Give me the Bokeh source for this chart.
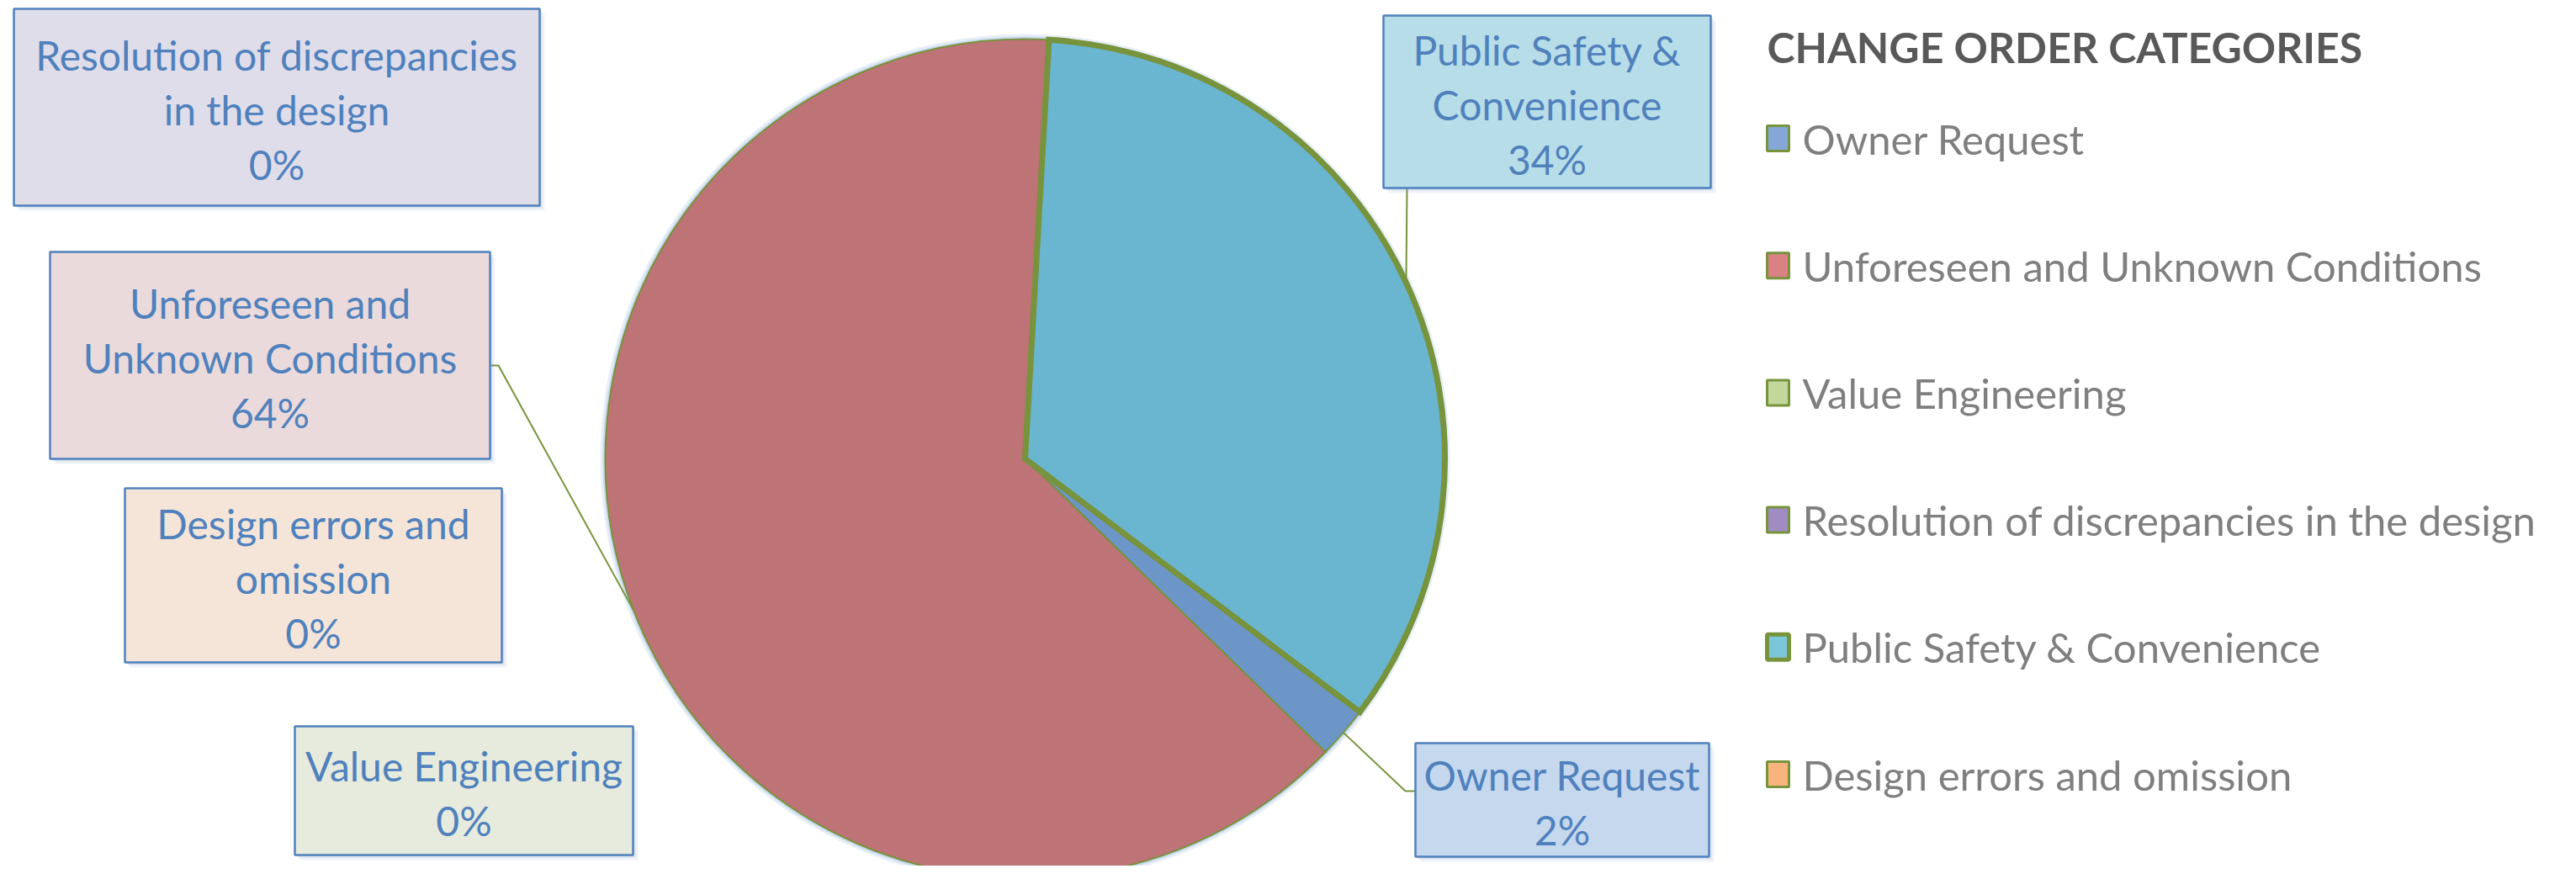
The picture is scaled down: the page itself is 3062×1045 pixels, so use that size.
import numpy as np
from bokeh.plotting import figure
from bokeh.models import Range1d
from bokeh.core.properties import value
from bokeh.embed import file_html
from bokeh.resources import INLINE

# ---------------- data ----------------
categories = ["Owner Request", "Unforeseen and Unknown Conditions", "Value Engineering",
              "Resolution of discrepancies in the design", "Public Safety & Convenience",
              "Design errors and omission"]
shares = [2.0, 63.6, 0.0, 0.0, 34.4, 0.0]
label_lines = [["Owner Request"], ["Unforeseen and", "Unknown Conditions"], ["Value Engineering"],
               ["Resolution of discrepancies", "in the design"], ["Public Safety &", "Convenience"],
               ["Design errors and", "omission"]]
legend_title = "CHANGE ORDER CATEGORIES"

# ---------------- styles ----------------
slice_colors = ["#6C96C8", "#BE7377", "#9BBB59", "#8064A2", "#6AB5CF", "#F79646"]
legend_colors = ["#84A7D7", "#D98183", "#C3D69B", "#A08CC2", "#7CC6D9", "#F9B37C"]
box_fills = ["#C5D8EE", "#EBDADB", "#E6EBDD", "#E0DDEB", "#B7DDE8", "#F5E5D9"]
GREEN = "#77933C"
BLUE_TXT = "#4F81BD"
FONT = value("Lato")

# ---------------- layout (image pixel coordinates, y down) ----------------
W, H, M = 3062, 1045, 8
CX, CY, R = 1218, 545, 499
FIRST_ANGLE = 127.1   # clockwise from 12 o'clock
boxes = {0: (1682, 883, 2031, 1018), 1: (59, 299, 582, 545), 2: (350, 863, 752, 1016),
         3: (16, 10, 641, 244), 4: (1644, 18, 2033, 223), 5: (148, 580, 596, 787)}
leader_ends = {0: [(1670, 940), (1682, 940)], 1: [(592, 434), (582, 434)], 4: [(1672, 223)]}
LINE_SP = 65
LABEL_SIZE = "48px"
LEG_X, LEG_TITLE_Y, LEG_Y0, LEG_DY = 2100, 55, 164, 151.2


def Y(y):
    return H - y


p = figure(width=W - 2 * M, height=H - 2 * M, x_range=Range1d(0, W - 2 * M), y_range=Range1d(2 * M, H),
           output_backend="svg", toolbar_location=None, x_axis_type=None, y_axis_type=None,
           min_border=0, background_fill_color="white", border_fill_color="white")
p.outline_line_color = None
p.xgrid.visible = False
p.ygrid.visible = False

# ---------------- pie ----------------
frac = np.array(shares) / sum(shares)
start_cw = FIRST_ANGLE + 360 * np.concatenate([[0], np.cumsum(frac)[:-1]])
end_cw = start_cw + 360 * frac
mid_cw = (start_cw + end_cw) / 2

# soft glow behind the pie
p.circle(x=[CX], y=[Y(CY)], radius=R + 6, fill_color="#D5E2F2", fill_alpha=0.6, line_color=None)
p.circle(x=[CX], y=[Y(CY)], radius=R + 3, fill_color="#B9CDE6", fill_alpha=0.7, line_color=None)

order = [i for i in range(len(shares)) if shares[i] > 0]
order.sort(key=lambda i: 1 if i == 4 else 0)
for i in order:
    lw = 7 if i == 4 else 2
    p.wedge(x=[CX], y=[Y(CY)], radius=R,
            start_angle=[np.radians(90 - start_cw[i])], end_angle=[np.radians(90 - end_cw[i])],
            direction="clock", fill_color=slice_colors[i], line_color=GREEN, line_width=lw,
            line_join="miter")

# ---------------- leader lines ----------------
for i, pts in leader_ends.items():
    a = np.radians(mid_cw[i])
    x0 = CX + R * np.sin(a)
    y0 = CY - R * np.cos(a)
    xs = [x0] + [pt[0] for pt in pts]
    ys = [Y(y0)] + [Y(pt[1]) for pt in pts]
    p.line(x=xs, y=ys, line_color=GREEN, line_width=2)

# ---------------- label boxes ----------------
for i, (l, t, r, b) in boxes.items():
    for off, al in [(6, 0.12), (3, 0.2)]:
        p.quad(left=[l + off], right=[r + off], top=[Y(t + off)], bottom=[Y(b + off)],
               fill_color="#7F9CC4", fill_alpha=al, line_color=None)
    p.quad(left=[l], right=[r], top=[Y(t)], bottom=[Y(b)], fill_color=box_fills[i],
           line_color=BLUE_TXT, line_width=2.5)
    lines = label_lines[i] + [f"{round(shares[i])}%"]
    n = len(lines)
    cy = (t + b) / 2 + 3
    xs = [(l + r) / 2] * n
    ys = [Y(cy + (k - (n - 1) / 2) * LINE_SP) for k in range(n)]
    p.text(x=xs, y=ys, text=lines, text_align="center", text_baseline="middle",
           text_font=FONT, text_font_size=LABEL_SIZE, text_color=BLUE_TXT)

# ---------------- legend ----------------
p.text(x=[LEG_X], y=[Y(LEG_TITLE_Y)], text=[legend_title], text_align="left", text_baseline="middle",
       text_font=FONT, text_font_size="50px", text_font_style="bold", text_color="#595959")
for i, cat in enumerate(categories):
    yy = LEG_Y0 + LEG_DY * i
    lw = 5 if i == 4 else 3
    p.quad(left=[LEG_X], right=[LEG_X + 26], top=[Y(yy - 15)], bottom=[Y(yy + 15)],
           fill_color=legend_colors[i], line_color=GREEN, line_width=lw)
    p.text(x=[LEG_X + 42], y=[Y(yy)], text=[cat], text_align="left", text_baseline="middle",
           text_font=FONT, text_font_size="49px", text_color="#7F7F7F")

open("out.html", "w").write(file_html(p, INLINE))
